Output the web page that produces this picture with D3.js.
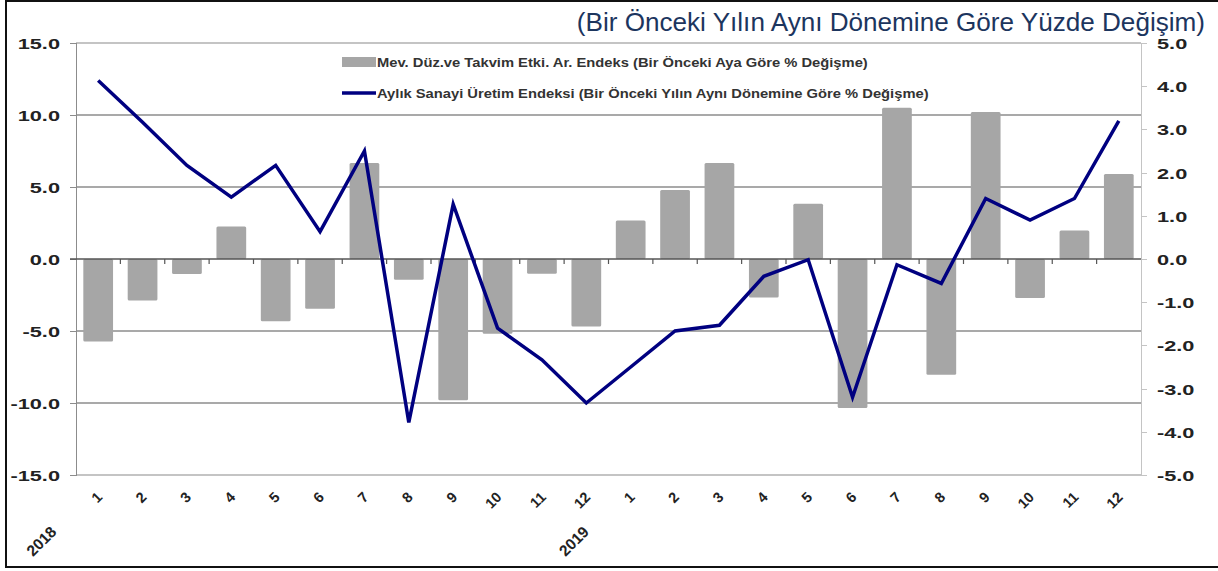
<!DOCTYPE html>
<html>
<head>
<meta charset="utf-8">
<script src="https://cdn.jsdelivr.net/npm/d3@7"></script>
<style>
  body { margin: 0; background: #fff; }
  text { font-family: "Liberation Sans", Arial, sans-serif; }
</style>
</head>
<body>
<div id="chart"></div>
<script>
// Data
// ================================
var months = ["1", "2", "3", "4", "5", "6", "7", "8", "9", "10", "11", "12",
  "1", "2", "3", "4", "5", "6", "7", "8", "9", "10", "11", "12"];
var years = ["2018", "2019"];

// monthly change, seasonally and calendar adjusted (right axis)
var monthlyChange = [-1.91, -0.96, -0.35, 0.75, -1.44, -1.15, 2.22, -0.48, -3.27, -1.73, -0.34, -1.56,
  0.89, 1.6, 2.22, -0.89, 1.28, -3.45, 3.5, -2.68, 3.4, -0.9, 0.66, 1.97];

// annual change (left axis)
var annualChange = [12.4, 9.5, 6.5, 4.3, 6.5, 1.9, 7.5, -11.35, 3.8, -4.8, -7.0, -10.0,
  -7.5, -5.0, -4.6, -1.2, -0.05, -9.6, -0.4, -1.7, 4.2, 2.7, 4.2, 9.6];

var leftTicks = [-15, -10, -5, 0, 5, 10, 15];
var rightTicks = [-5, -4, -3, -2, -1, 0, 1, 2, 3, 4, 5];

var titleText = "(Bir Önceki Yılın Aynı Dönemine Göre Yüzde Değişim)";
var barLabel = "Mev. Düz.ve Takvim Etki. Ar. Endeks (Bir Önceki Aya Göre % Değişme)";
var lineLabel = "Aylık Sanayi Üretim Endeksi (Bir Önceki Yılın Aynı Dönemine Göre % Değişme)";

// Set up chart
// ================================
var svgWidth = 1218;
var svgHeight = 571;
var plot = { left: 76, right: 1141, top: 43, bottom: 475 };
var labelStretch = 1.45;
var fmt = d => d.toFixed(1);

var svg = d3.select("#chart")
  .append("svg")
  .attr("width", svgWidth)
  .attr("height", svgHeight);

// outer frame (left, top, bottom)
svg.append("path")
  .attr("d", "M1230,1 H6 V567 H1230")
  .attr("fill", "none")
  .attr("stroke", "#111")
  .attr("stroke-width", 2);

// scales
var idx = d3.range(months.length);
var x = d3.scaleBand()
  .domain(idx)
  .range([plot.left, plot.right])
  .paddingInner(0.33)
  .paddingOuter(0.165);

var yLeft = d3.scaleLinear().domain([-15, 15]).range([plot.bottom, plot.top]);
var yRight = d3.scaleLinear().domain([-5, 5]).range([plot.bottom, plot.top]);

// gridlines
svg.append("g")
  .selectAll("line")
  .data(leftTicks.filter(d => d !== 0))
  .enter()
  .append("line")
  .attr("x1", plot.left)
  .attr("x2", plot.right)
  .attr("y1", d => yLeft(d))
  .attr("y2", d => yLeft(d))
  .attr("stroke", d => Math.abs(d) === 15 ? "#b0b0b0" : "#8c8c8c")
  .attr("stroke-width", 1.3);

// left axis
var leftAxis = d3.axisLeft(yLeft).tickValues(leftTicks).tickSize(6).tickFormat(fmt);
var gLeft = svg.append("g")
  .attr("transform", `translate(${plot.left},0)`)
  .call(leftAxis);
gLeft.select(".domain").attr("stroke", "#8c8c8c").attr("stroke-width", 1.3);
gLeft.selectAll(".tick line").attr("stroke", "#8c8c8c");
gLeft.selectAll(".tick text")
  .attr("x", null)
  .attr("dy", null)
  .attr("fill", "#222")
  .style("font-size", "15px")
  .style("font-weight", "bold")
  .attr("text-anchor", "end")
  .attr("transform", `translate(-16,5.5) scale(${labelStretch},1)`);

// right axis
var rightAxis = d3.axisRight(yRight).tickValues(rightTicks).tickSize(6).tickFormat(fmt);
var gRight = svg.append("g")
  .attr("transform", `translate(${plot.right},0)`)
  .call(rightAxis);
gRight.select(".domain").attr("stroke", "#c4c4c4").attr("stroke-width", 1.3);
gRight.selectAll(".tick line").attr("stroke", "#c4c4c4");
gRight.selectAll(".tick text")
  .attr("x", null)
  .attr("dy", null)
  .attr("fill", "#222")
  .style("font-size", "15px")
  .style("font-weight", "bold")
  .attr("text-anchor", "start")
  .attr("transform", `translate(16,5.5) scale(${labelStretch},1)`);

svg.selectAll(".domain, .tick line").attr("shape-rendering", "crispEdges");

// bars
svg.append("g")
  .selectAll("rect")
  .data(monthlyChange)
  .enter()
  .append("rect")
  .attr("x", (d, i) => x(i))
  .attr("width", x.bandwidth())
  .attr("y", d => yRight(Math.max(0, d)))
  .attr("height", d => Math.abs(yRight(d) - yRight(0)))
  .attr("rx", 1.5)
  .attr("fill", "#a6a6a6");

// zero line with category ticks
var zeroY = yLeft(0);
svg.append("line")
  .attr("x1", plot.left - 6)
  .attr("x2", plot.right)
  .attr("y1", zeroY)
  .attr("y2", zeroY)
  .attr("stroke", "#555")
  .attr("stroke-width", 1.3);

var step = x.step();
svg.append("g")
  .selectAll("line")
  .data(d3.range(1, months.length))
  .enter()
  .append("line")
  .attr("x1", d => plot.left + d * step)
  .attr("x2", d => plot.left + d * step)
  .attr("y1", zeroY)
  .attr("y2", zeroY + 5)
  .attr("stroke", "#555")
  .attr("stroke-width", 1.2);

// line
var line = d3.line()
  .x((d, i) => x(i) + x.bandwidth() / 2)
  .y(d => yLeft(d));

svg.append("path")
  .datum(annualChange)
  .attr("d", line)
  .attr("fill", "none")
  .attr("stroke", "#000080")
  .attr("stroke-width", 3.5)
  .attr("stroke-linejoin", "miter");

// month labels
svg.append("g")
  .selectAll("text")
  .data(months)
  .enter()
  .append("text")
  .attr("transform", (d, i) => `translate(${x(i) + x.bandwidth() / 2 + 5},498) rotate(-45)`)
  .attr("text-anchor", "end")
  .attr("fill", "#222")
  .style("font-size", "14.5px")
  .style("font-weight", "bold")
  .text(d => d);

// year labels
svg.append("g")
  .selectAll("text")
  .data(years)
  .enter()
  .append("text")
  .attr("transform", (d, i) => `translate(${x(i * 12) + x.bandwidth() / 2 - 53},545) rotate(-45)`)
  .attr("text-anchor", "middle")
  .attr("fill", "#222")
  .style("font-size", "15.5px")
  .style("font-weight", "bold")
  .text(d => d);

// legend
var legend = svg.append("g").attr("transform", "translate(342,0)");
legend.append("rect")
  .attr("x", 0).attr("y", 57)
  .attr("width", 34).attr("height", 10)
  .attr("fill", "#a6a6a6");
legend.append("text")
  .attr("transform", "translate(35,66.5) scale(1.18,1)")
  .attr("fill", "#333")
  .style("font-size", "12.5px")
  .style("font-weight", "bold")
  .text(barLabel);
legend.append("line")
  .attr("x1", 0).attr("x2", 34)
  .attr("y1", 93).attr("y2", 93)
  .attr("stroke", "#000080")
  .attr("stroke-width", 3.5);
legend.append("text")
  .attr("transform", "translate(35,97.5) scale(1.18,1)")
  .attr("fill", "#333")
  .style("font-size", "12.5px")
  .style("font-weight", "bold")
  .text(lineLabel);

// title
svg.append("text")
  .attr("transform", "translate(1205,31) scale(1.045,1)")
  .attr("text-anchor", "end")
  .attr("fill", "#1c355e")
  .style("font-size", "25px")
  .text(titleText);
</script>
</body>
</html>
